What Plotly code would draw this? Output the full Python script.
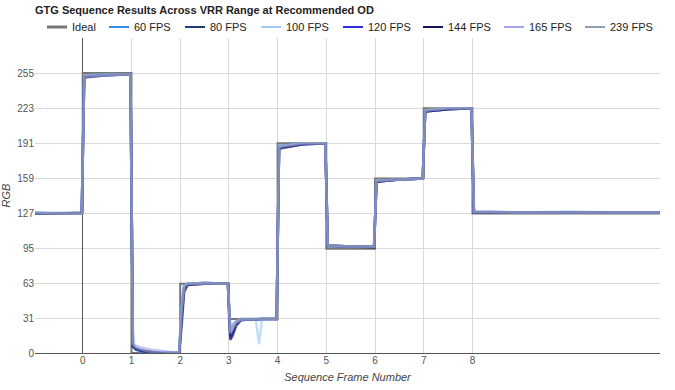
import plotly.graph_objects as go

# ---- data ----
ideal_x = [-1.0, 0, 0, 1, 1, 2, 2, 3, 3, 4, 4, 5, 5, 6, 6, 7, 7, 8, 8, 11.85]
ideal_y = [127, 127, 255, 255, 0, 0, 63, 63, 31, 31, 191, 191, 95, 95, 159, 159, 223, 223, 127, 127]

frame_x = [-1.0, -0.5, -0.02, 0.03, 0.5, 0.98, 1.03, 1.08, 1.2, 1.4, 1.6, 1.8, 1.98,
           2.03, 2.08, 2.15, 2.5, 2.98, 3.03, 3.08, 3.15, 3.25, 3.55, 3.62, 3.68, 3.98,
           4.03, 4.5, 4.98, 5.03, 5.5, 5.98, 6.03, 6.5, 6.98, 7.03, 7.5, 7.98, 8.03,
           9.0, 10.0, 11.0, 11.85]

fps60 = [128, 127, 127, 253, 254, 254, 7, 3, 1, 0, 0, 0, 0,
         45, 62, 63, 63, 63, 22, 26, 29, 31, 31, 31, 31, 31,
         189, 191, 191, 98, 97, 97, 157, 158, 159, 221, 223, 223, 129, 128, 128, 128, 128]
fps80 = [127, 127, 127, 252, 254, 254, 6, 4, 2, 1, 0, 0, 0,
         35, 60, 63, 64, 63, 15, 20, 27, 30, 31, 31, 31, 31,
         187, 191, 191, 97, 97, 96, 156, 158, 159, 220, 222, 223, 128, 128, 128, 128, 128]
fps100 = [127, 128, 127, 253, 254, 254, 9, 5, 3, 1, 0, 0, 0,
          40, 61, 63, 63, 63, 20, 25, 29, 31, 31, 8, 31, 31,
          188, 191, 191, 98, 97, 97, 157, 158, 159, 221, 223, 223, 129, 128, 129, 128, 128]
fps120 = [127, 127, 127, 252, 253, 254, 7, 4, 2, 1, 0, 0, 0,
          30, 58, 62, 63, 63, 13, 18, 26, 30, 31, 31, 31, 31,
          187, 190, 191, 98, 97, 97, 156, 158, 159, 220, 222, 223, 128, 128, 128, 128, 128]
fps144 = [127, 127, 128, 251, 253, 254, 6, 4, 2, 1, 0, 0, 0,
          25, 55, 62, 63, 63, 12, 16, 25, 30, 31, 31, 31, 31,
          186, 190, 191, 98, 97, 97, 156, 158, 159, 220, 222, 223, 128, 128, 128, 128, 128]
fps165 = [128, 127, 127, 252, 253, 254, 9, 7, 5, 3, 2, 1, 0,
          38, 60, 63, 64, 63, 18, 22, 28, 30, 31, 31, 31, 31,
          188, 191, 191, 98, 97, 97, 157, 158, 159, 221, 223, 223, 129, 128, 128, 128, 128]
fps239 = [127, 127, 127, 253, 254, 254, 8, 5, 3, 1, 0, 0, 0,
          42, 61, 63, 63, 63, 20, 24, 28, 31, 31, 31, 31, 31,
          188, 191, 191, 98, 97, 97, 157, 158, 159, 221, 223, 223, 128, 128, 128, 128, 128]

series_names = ["60 FPS", "80 FPS", "100 FPS", "120 FPS", "144 FPS", "165 FPS", "239 FPS"]
series_vals = [fps60, fps80, fps100, fps120, fps144, fps165, fps239]
series_colors = ["#2f8fe8", "#1b3f75", "#9fcdf5", "#2a2ae0", "#14145e", "#a3a3f2", "#8c9db0"]

x_ticks = [0, 1, 2, 3, 4, 5, 6, 7, 8]
y_ticks = [0, 31, 63, 95, 127, 159, 191, 223, 255]

# ---- layout constants (pixels) ----
W, H = 675, 390
ML, MR, MT, MB = 35, 15, 38, 37
PW, PH = W - ML - MR, H - MT - MB
legend_line_px = [47, 109, 185, 261, 343, 423, 504, 585]
legend_y_px = 27


def px_x(p):
    return (p - ML) / PW


def px_y(p):
    return (H - MB - p) / PH


fig = go.Figure()
fig.add_trace(go.Scatter(x=ideal_x, y=ideal_y, mode="lines", name="Ideal",
                         line=dict(color="#777777", width=2)))
for n, v, c in zip(series_names, series_vals, series_colors):
    fig.add_trace(go.Scatter(x=frame_x, y=v, mode="lines", name=n,
                             line=dict(color=c, width=2.5), opacity=0.62))

font = "Arial, Liberation Sans, sans-serif"

# custom legend (Google-Charts style short line + label)
leg_names = ["Ideal"] + series_names
leg_colors = ["#777777"] + series_colors
for p, n, c in zip(legend_line_px, leg_names, leg_colors):
    fig.add_shape(type="line", xref="paper", yref="paper",
                  x0=px_x(p), x1=px_x(p + 20), y0=px_y(legend_y_px), y1=px_y(legend_y_px),
                  line=dict(color=c, width=3 if n == "Ideal" else 2))
    fig.add_annotation(text=n, xref="paper", yref="paper", x=px_x(p + 23), y=px_y(legend_y_px),
                       xanchor="left", yanchor="middle", showarrow=False,
                       font=dict(family=font, size=11, color="#222"))

fig.update_layout(
    width=W, height=H,
    margin=dict(l=ML, r=MR, t=MT, b=MB, autoexpand=False),
    paper_bgcolor="white", plot_bgcolor="white",
    font=dict(family=font, size=11, color="#444"),
    title=dict(text="<b>GTG Sequence Results Across VRR Range at Recommended OD</b>",
               x=ML / W, xanchor="left", xref="container",
               y=1 - 10 / H, yanchor="middle", yref="container",
               font=dict(family=font, size=11, color="#222")),
    showlegend=False,
)
fig.update_xaxes(range=[-0.98, 11.85], tickvals=x_ticks, showgrid=True, gridcolor="#d9d9d9",
                 zeroline=True, zerolinecolor="#555", zerolinewidth=1,
                 showline=False, ticks="", tickfont=dict(size=10, color="#555"),
                 title=dict(text="<i>Sequence Frame Number</i>", font=dict(size=11, color="#444"),
                            standoff=8))
fig.update_yaxes(range=[0, 287], tickvals=y_ticks, showgrid=True, gridcolor="#d9d9d9",
                 zeroline=True, zerolinecolor="#555", zerolinewidth=1,
                 ticks="", tickfont=dict(size=10, color="#555"),
                 title=dict(text="<i>RGB</i>", font=dict(size=11, color="#444"), standoff=6))

fig.write_html("out.html", config={"displayModeBar": False},
               post_script="document.body.style.margin='0';")
